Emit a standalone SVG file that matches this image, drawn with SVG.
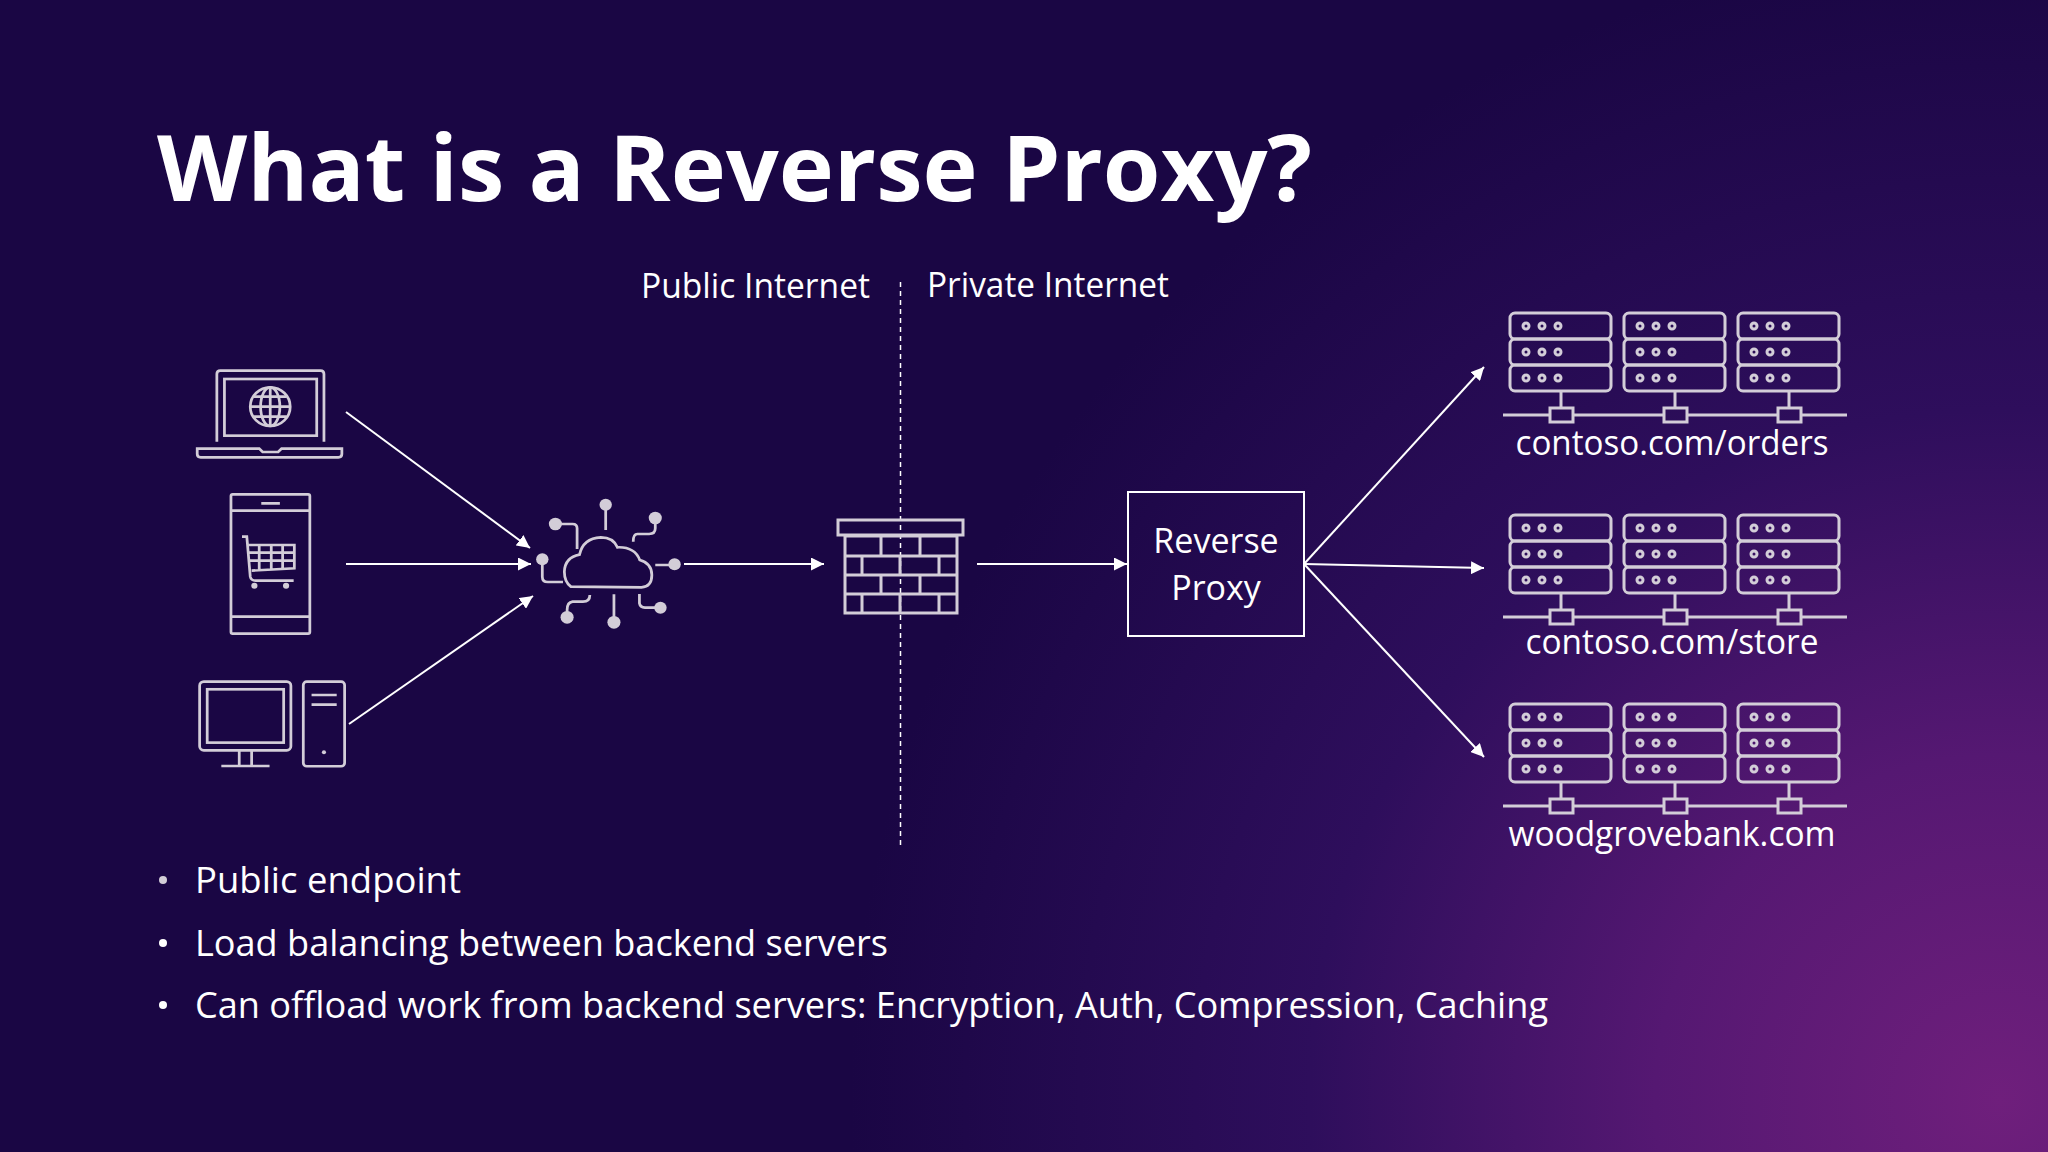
<svg xmlns="http://www.w3.org/2000/svg" width="2048" height="1152" viewBox="0 0 2048 1152">
<defs>
<radialGradient id="glow" gradientUnits="userSpaceOnUse" cx="2000" cy="1100" r="1150">
<stop offset="0" stop-color="#6f1f7c"/><stop offset="0.3" stop-color="#551872"/><stop offset="0.6" stop-color="#2e0e5c"/><stop offset="1" stop-color="#1a0644"/>
</radialGradient>
<marker id="ah" viewBox="0 0 10 10" refX="10" refY="5" markerWidth="13" markerHeight="13" markerUnits="userSpaceOnUse" orient="auto"><path d="M0 0L10 5L0 10Z" fill="#fff"/></marker>
<g id="rack">
<rect x="0" y="0" width="101" height="26" rx="5"/><rect x="0" y="26" width="101" height="26" rx="5"/><rect x="0" y="52" width="101" height="26" rx="5"/>
<g class="d"><circle cx="16" cy="13" r="3"/><circle cx="32" cy="13" r="3"/><circle cx="48" cy="13" r="3"/><circle cx="16" cy="39" r="3"/><circle cx="32" cy="39" r="3"/><circle cx="48" cy="39" r="3"/><circle cx="16" cy="65" r="3"/><circle cx="32" cy="65" r="3"/><circle cx="48" cy="65" r="3"/></g>
<path d="M51 78V95"/><rect x="40" y="95" width="23" height="14"/>
</g>
<g id="servers">
<use href="#rack" x="0"/><use href="#rack" x="114"/><use href="#rack" x="228"/>
<path d="M-7 102H40M63 102H154M177 102H268M291 102H337"/>
</g>
</defs>
<style>
text{font-family:"Open Sans","Noto Sans","Liberation Sans",sans-serif;fill:#fff}
.i{fill:none;stroke:#d3cdd8;stroke-width:3}
.i .d,.f{fill:#d3cdd8;stroke:none}
.z{fill:none;stroke:#d3cdd8;stroke-width:8}
.z .f{fill:#d3cdd8;stroke:none}
.c{fill:none;stroke:#fff;stroke-width:2;marker-end:url(#ah)}
.l{font-size:34px}
.b{font-size:37px}
</style>
<rect width="2048" height="1152" fill="url(#glow)"/>
<text x="157" y="201" font-size="92" font-weight="700" textLength="1155" lengthAdjust="spacingAndGlyphs">What is a Reverse Proxy?</text>
<text class="l" x="641" y="298" textLength="229" lengthAdjust="spacingAndGlyphs">Public Internet</text>
<text class="l" x="927" y="297" textLength="242" lengthAdjust="spacingAndGlyphs">Private Internet</text>
<g id="connectors">
<path d="M900.5 282V848" fill="none" stroke="#fff" stroke-width="1.5" stroke-dasharray="5 4"/>
<path class="c" d="M346 412L530 548"/>
<path class="c" d="M346 564H531"/>
<path class="c" d="M349 724L533 596"/>
<path class="c" d="M684 564H824"/>
<path class="c" d="M977 564H1127"/>
<path class="c" d="M1304 564L1484 367"/>
<path class="c" d="M1304 564L1484 568"/>
<path class="c" d="M1304 564L1484 757"/>
</g>
<g id="laptop" class="z" transform="translate(180 350) scale(.3444 .3333)">
<path d="M107 275V72Q107 62 117 62H408Q418 62 418 72V275"/><rect x="129" y="87" width="268" height="170"/>
<circle cx="262" cy="170" r="58"/><ellipse cx="262" cy="170" rx="28" ry="58"/><path d="M262 112V228M206 170H318M214 140H310M214 200H310"/>
<path d="M50 296H230L240 306H285L295 296H470V312Q470 322 460 322H60Q50 322 50 312Z"/>
</g>
<g id="phone" class="z" transform="translate(180 350) scale(.3444 .3333)">
<rect x="148" y="433" width="229" height="418" rx="5"/><path d="M148 482H377M148 800H377M236 460H290"/>
<path d="M180 560H194L204 680Q206 692 220 692H330"/><path d="M198 585H332V655L208 662M200 608H330M202 632H330M230 585V660M265 585V658M298 585V656"/>
<circle class="f" cx="216" cy="707" r="9"/><circle class="f" cx="308" cy="707" r="9"/>
</g>
<g id="desktop" class="z" transform="translate(180 350) scale(.3444 .3333)">
<rect x="57" y="995" width="265" height="206" rx="12"/><rect x="79" y="1018" width="222" height="160"/>
<path d="M172 1201V1248M208 1201V1248M120 1248H260"/>
<rect x="358" y="995" width="120" height="254" rx="10"/><path d="M382 1035H455M382 1064H455"/><circle class="f" cx="418" cy="1207" r="6"/>
</g>
<g id="cloud" class="z" transform="translate(180 350) scale(.3444 .3333)">
<path d="M1135 710Q1116 695 1116 665Q1118 622 1160 614Q1170 565 1222 562Q1258 562 1270 592Q1320 590 1335 630Q1370 640 1370 675Q1370 710 1340 712Z"/>
<path d="M1236 470V540M1090 522H1140Q1153 522 1153 535V597M1380 510V535Q1380 552 1362 552H1328Q1316 552 1316 575M1052 635V680Q1052 696 1068 696H1112M1380 645H1435M1190 735Q1190 755 1170 755H1140Q1124 757 1124 780V800M1260 733V815M1334 732V760Q1336 772 1350 773H1395"/>
<circle class="f" cx="1236" cy="464" r="18"/><circle class="f" cx="1090" cy="522" r="19"/><circle class="f" cx="1380" cy="504" r="19"/><circle class="f" cx="1052" cy="628" r="18"/><circle class="f" cx="1436" cy="643" r="18"/><circle class="f" cx="1124" cy="802" r="19"/><circle class="f" cx="1260" cy="817" r="19"/><circle class="f" cx="1395" cy="773" r="18"/>
</g>
<g id="firewall" class="i">
<rect x="838" y="520" width="125" height="15"/><rect x="845" y="536" width="112" height="77"/>
<path d="M845 556H957M845 575H957M845 594H957M881 536V556M920 536V556M862 556V575M900 556V575M939 556V575M881 575V594M920 575V594M862 594V613M900 594V613M939 594V613"/>
</g>
<g id="proxy">
<rect x="1128" y="492" width="176" height="144" fill="none" stroke="#fff" stroke-width="2"/>
<text x="1216" y="553" font-size="34" text-anchor="middle">Reverse</text>
<text x="1216" y="600" font-size="34" text-anchor="middle">Proxy</text>
</g>
<g id="orders"><use class="i" href="#servers" x="1510" y="313"/><text x="1672" y="455" font-size="34" text-anchor="middle" textLength="313" lengthAdjust="spacingAndGlyphs">contoso.com/orders</text></g>
<g id="store"><use class="i" href="#servers" x="1510" y="515"/><text x="1672" y="654" font-size="34" text-anchor="middle" textLength="293" lengthAdjust="spacingAndGlyphs">contoso.com/store</text></g>
<g id="woodgrove"><use class="i" href="#servers" x="1510" y="704"/><text x="1672" y="846" font-size="34" text-anchor="middle" textLength="327" lengthAdjust="spacingAndGlyphs">woodgrovebank.com</text></g>
<g id="bullets">
<circle class="f" cx="163" cy="880" r="4" fill="#fff"/><text class="b" x="195" y="893" textLength="266" lengthAdjust="spacingAndGlyphs">Public endpoint</text>
<circle cx="163" cy="943" r="4" fill="#fff"/><text class="b" x="195" y="956" textLength="693" lengthAdjust="spacingAndGlyphs">Load balancing between backend servers</text>
<circle cx="163" cy="1005" r="4" fill="#fff"/><text class="b" x="195" y="1018" textLength="1353" lengthAdjust="spacingAndGlyphs">Can offload work from backend servers: Encryption, Auth, Compression, Caching</text>
</g>
</svg>
